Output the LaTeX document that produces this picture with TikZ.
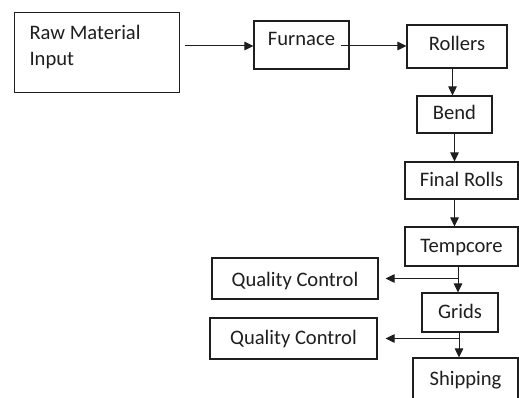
\documentclass[tikz,border=0pt]{standalone}
\usepackage{fontspec}
\setmainfont{Carlito}
\usetikzlibrary{arrows.meta}
\definecolor{flowInk}{HTML}{1E1E1E}

\begin{document}
\begin{tikzpicture}[
  x=1pt, y=-1pt,
  line cap=butt, line join=miter,
  >={Triangle[length=9pt,width=8.5pt]},
  stage/.style={draw=flowInk, line width=1.1pt, text=flowInk,
    inner sep=0pt, anchor=base,
    font=\fontsize{20.6}{26}\selectfont},
  flow/.style={draw=flowInk, line width=1pt, ->}
]
\useasboundingbox (0,0) rectangle (519,398);
\clip (0,0) rectangle (519,398);

% Top row: input, furnace, rollers.
\node[stage, anchor=north west, align=flush left, text width=135pt,
  inner xsep=15pt, text height=27pt, text depth=53pt]
  (raw) at (14,12) {Raw Material\\Input};
\node[stage, minimum width=95pt, text height=25pt, text depth=23pt]
  (furnace) at (301.5,46) {Furnace};
\node[stage, minimum width=100pt, text height=26pt, text depth=17pt]
  (rollers) at (457,51) {Rollers};

% Right column going down.
\node[stage, minimum width=75pt, text height=24pt, text depth=13pt]
  (bend) at (454.5,120) {Bend};
\node[stage, minimum width=113pt, text height=24pt, text depth=13pt]
  (final) at (461.5,186) {Final Rolls};
\node[stage, minimum width=113pt, text height=25pt, text depth=14pt]
  (tempcore) at (461.5,252) {Tempcore};
\node[stage, minimum width=76pt, text height=25pt, text depth=14pt]
  (grids) at (460,318) {Grids};
\node[stage, minimum width=105pt, text height=27pt, text depth=20pt]
  (shipping) at (465.5,385) {Shipping};

% Side checks.
\node[stage, minimum width=166pt, text height=28pt, text depth=13pt]
  (qc1) at (295,286) {Quality Control};
\node[stage, minimum width=167pt, text height=26pt, text depth=15pt]
  (qc2) at (293.5,344) {Quality Control};

% Connectors.
\draw[flow] ([xshift=5pt]raw.east |- furnace.base)
  -- (furnace.west |- furnace.base);
\draw[flow] ([xshift=-9pt]furnace.east |- furnace.base)
  -- (rollers.west |- furnace.base);
\draw[flow] ([xshift=-2pt]bend.north |- rollers.south)
  -- ([xshift=-2pt]bend.north);
\draw[flow] (bend.south) -- (bend.south |- final.north);
\draw[flow] (bend.south |- final.south) -- (bend.south |- tempcore.north);
\draw[flow] ([xshift=-2pt]grids.north |- tempcore.south)
  -- ([xshift=-2pt]grids.north);
\draw[flow] ([xshift=-1pt]grids.south)
  -- ([xshift=-1pt]grids.south |- shipping.north);
\draw[flow] ([xshift=-2pt]grids.north |- qc1.east)
  -- ([xshift=7pt]qc1.east);
\draw[flow] ([xshift=-1pt]grids.south |- qc2.east)
  -- ([xshift=8pt]qc2.east);
\end{tikzpicture}
\end{document}
